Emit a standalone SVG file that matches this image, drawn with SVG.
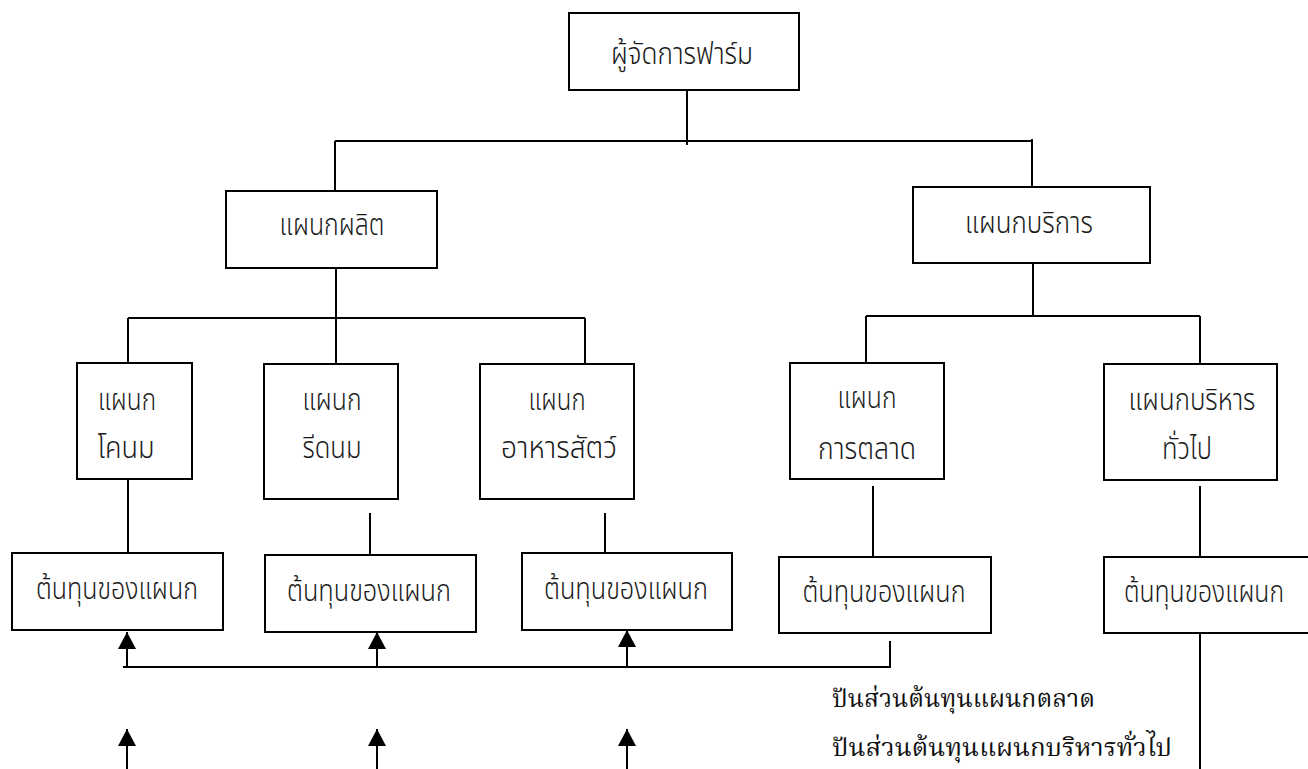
<svg xmlns="http://www.w3.org/2000/svg" width="1308" height="769" viewBox="0 0 1308 769">
  <style>
    .box { fill: #ffffff; stroke: #000000; stroke-width: 2; }
    .lbl { font-family: "Noto Sans Thai", "Noto Sans Thai Looped", "Loma", "Garuda", "Noto Sans", "DejaVu Sans", sans-serif; font-size: 31px; font-weight: 300; fill: #1a1a1a; text-anchor: middle; }
    .note { font-family: "Noto Serif Thai", "Noto Sans Thai Looped", "Norasi", "Liberation Serif", serif; font-size: 24px; font-weight: 400; fill: #111111; }
    .ln { fill: none; stroke: #000000; stroke-width: 2; }
  </style>
  <defs>
    <marker id="tri" viewBox="0 0 17 18" refX="17" refY="9" markerWidth="17" markerHeight="18" markerUnits="userSpaceOnUse" orient="auto">
      <path d="M0,0 L17,9 L0,18 Z" fill="#000000"/>
    </marker>
  </defs>

  <rect width="1308" height="769" fill="#ffffff"/>

  <!-- tree lines and cost allocation arrows -->
  <g id="connectors" class="ln">
    <path d="M687,90 V145"/>
    <path d="M335,141 H1032"/>
    <path d="M335,141 V191"/>
    <path d="M1032,139 V187"/>
    <path d="M336,268 V364"/>
    <path d="M128,318 H585"/>
    <path d="M128,318 V363"/>
    <path d="M585,318 V364"/>
    <path d="M1033,263 V316"/>
    <path d="M866,316 H1200"/>
    <path d="M866,316 V363"/>
    <path d="M1200,316 V364"/>
    <path d="M128,479 V553"/>
    <path d="M370,513 V555"/>
    <path d="M605,513 V553"/>
    <path d="M873,486 V557"/>
    <path d="M1200,486 V557"/>
    <path d="M1200,633 V769"/>
    <path d="M123,667 H890 V641"/>
    <path d="M127,667 V632" marker-end="url(#tri)"/>
    <path d="M377,667 V632" marker-end="url(#tri)"/>
    <path d="M627,667 V630" marker-end="url(#tri)"/>
    <path d="M127,769 V729" marker-end="url(#tri)"/>
    <path d="M377,769 V729" marker-end="url(#tri)"/>
    <path d="M627,769 V729" marker-end="url(#tri)"/>
  </g>

  <g id="farm-manager">
    <rect class="box" x="569" y="13" width="230" height="77"/>
    <text class="lbl" x="682" y="64" textLength="142" lengthAdjust="spacingAndGlyphs">ผู้จัดการฟาร์ม</text>
  </g>

  <g id="production">
    <rect class="box" x="226" y="191" width="211" height="77"/>
    <text class="lbl" x="332" y="235" textLength="105" lengthAdjust="spacingAndGlyphs">แผนกผลิต</text>
  </g>

  <g id="service">
    <rect class="box" x="913" y="187" width="237" height="76"/>
    <text class="lbl" x="1029" y="233" textLength="128" lengthAdjust="spacingAndGlyphs">แผนกบริการ</text>
  </g>

  <g id="dairy-cattle">
    <rect class="box" x="77" y="363" width="115" height="116"/>
    <text class="lbl" x="127" y="410" textLength="58" lengthAdjust="spacingAndGlyphs">แผนก</text>
    <text class="lbl" x="126" y="458" textLength="57" lengthAdjust="spacingAndGlyphs">โคนม</text>
  </g>

  <g id="milking">
    <rect class="box" x="264" y="364" width="134" height="135"/>
    <text class="lbl" x="332" y="410" textLength="59" lengthAdjust="spacingAndGlyphs">แผนก</text>
    <text class="lbl" x="332" y="458" textLength="59" lengthAdjust="spacingAndGlyphs">รีดนม</text>
  </g>

  <g id="feed">
    <rect class="box" x="480" y="364" width="154" height="135"/>
    <text class="lbl" x="557" y="410" textLength="57" lengthAdjust="spacingAndGlyphs">แผนก</text>
    <text class="lbl" x="559" y="458" textLength="116" lengthAdjust="spacingAndGlyphs">อาหารสัตว์</text>
  </g>

  <g id="marketing">
    <rect class="box" x="790" y="363" width="154" height="116"/>
    <text class="lbl" x="867" y="408" textLength="59" lengthAdjust="spacingAndGlyphs">แผนก</text>
    <text class="lbl" x="867" y="459" textLength="98" lengthAdjust="spacingAndGlyphs">การตลาด</text>
  </g>

  <g id="general-admin">
    <rect class="box" x="1104" y="364" width="173" height="116"/>
    <text class="lbl" x="1192" y="410" textLength="127" lengthAdjust="spacingAndGlyphs">แผนกบริหาร</text>
    <text class="lbl" x="1187" y="459" textLength="50" lengthAdjust="spacingAndGlyphs">ทั่วไป</text>
  </g>

  <g id="cost-dairy-cattle">
    <rect class="box" x="12" y="553" width="211" height="77"/>
    <text class="lbl" x="117" y="599" textLength="162" lengthAdjust="spacingAndGlyphs">ต้นทุนของแผนก</text>
  </g>

  <g id="cost-milking">
    <rect class="box" x="265" y="555" width="211" height="77"/>
    <text class="lbl" x="369" y="601" textLength="164" lengthAdjust="spacingAndGlyphs">ต้นทุนของแผนก</text>
  </g>

  <g id="cost-feed">
    <rect class="box" x="522" y="553" width="210" height="77"/>
    <text class="lbl" x="626" y="599" textLength="164" lengthAdjust="spacingAndGlyphs">ต้นทุนของแผนก</text>
  </g>

  <g id="cost-marketing">
    <rect class="box" x="779" y="557" width="212" height="76"/>
    <text class="lbl" x="884" y="602" textLength="163" lengthAdjust="spacingAndGlyphs">ต้นทุนของแผนก</text>
  </g>

  <g id="cost-general-admin">
    <rect class="box" x="1104" y="557" width="214" height="76"/>
    <text class="lbl" x="1204" y="602" textLength="160" lengthAdjust="spacingAndGlyphs">ต้นทุนของแผนก</text>
  </g>

  <g id="allocation-notes">
    <text class="note" x="832" y="707" textLength="263" lengthAdjust="spacingAndGlyphs">ปันส่วนต้นทุนแผนกตลาด</text>
    <text class="note" x="832" y="756" textLength="340" lengthAdjust="spacingAndGlyphs">ปันส่วนต้นทุนแผนกบริหารทั่วไป</text>
  </g>
</svg>
